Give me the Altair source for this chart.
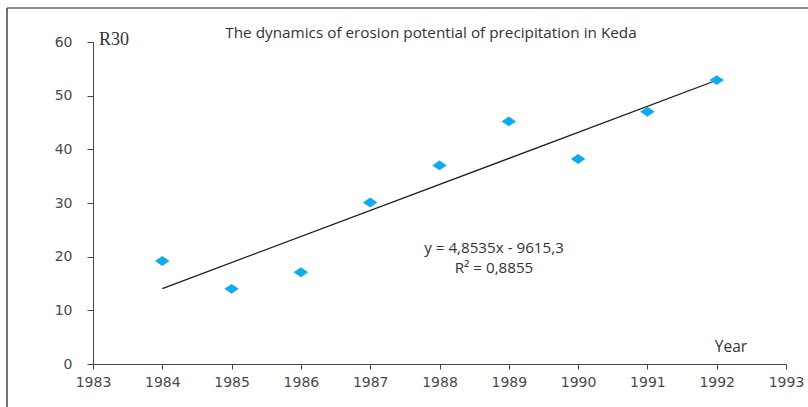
import altair as alt
import pandas as pd

# Observed R30 values by year
years = [1984, 1985, 1986, 1987, 1988, 1989, 1990, 1991, 1992]
r30 = [19.2, 14.0, 17.1, 30.1, 37.0, 45.2, 38.2, 47.0, 52.9]

# Linear trend fitted to the series
slope = 4.8535
intercept = -9615.3
r_squared = 0.8855

x_ticks = list(range(1983, 1994))
y_ticks = [0, 10, 20, 30, 40, 50, 60]

W, H = 693, 322
PAD_L, PAD_T = 93, 42

points = pd.DataFrame({"year": years, "r30": r30})
trend = pd.DataFrame({
    "year": [years[0], years[-1]],
    "r30": [slope * years[0] + intercept, slope * years[-1] + intercept],
})

def comma(v, nd):
    return f"{v:.{nd}f}".replace(".", ",")

sign = "-" if intercept < 0 else "+"
eq_line1 = f"y = {comma(slope, 4)}x {sign} {comma(abs(intercept), 1)}"
eq_line2 = f"R² = {comma(r_squared, 4)}"

xs = alt.Scale(domain=[1983, 1993], nice=False, zero=False)
ys = alt.Scale(domain=[0, 60], nice=False)

x_axis = alt.Axis(values=x_ticks, format="d", grid=False, title=None,
                  labelFont="DejaVu Sans", labelFontSize=14, labelColor="#4a4a4a",
                  domainColor="#444", tickColor="#444", tickSize=5, labelPadding=6,
                  labelFlush=False)
y_axis = alt.Axis(values=y_ticks, grid=False, title=None,
                  labelFont="DejaVu Sans", labelFontSize=14, labelColor="#4a4a4a",
                  domainColor="#444", tickColor="#444", tickSize=6, labelPadding=15)

diamond = "M-1,0L0,-0.68L1,0L0,0.68Z"

pts = alt.Chart(points).mark_point(
    shape=diamond, filled=True, size=210, color="#10AAEE", opacity=1
).encode(
    x=alt.X("year:Q", scale=xs, axis=x_axis),
    y=alt.Y("r30:Q", scale=ys, axis=y_axis),
)

line = alt.Chart(trend).mark_line(color="#1a1a1a", strokeWidth=1.3).encode(
    x=alt.X("year:Q", scale=xs),
    y=alt.Y("r30:Q", scale=ys),
)

def label(text, x, y, font="Open Sans", size=15.3, align="center", baseline="middle"):
    return alt.Chart(pd.DataFrame({"t": [text]})).mark_text(
        font=font, fontSize=size, color="#333", align=align, baseline=baseline
    ).encode(text="t:N", x=alt.value(x), y=alt.value(y))

title = label("The dynamics of erosion potential of precipitation in Keda",
              431 - PAD_L, 33 - PAD_T)
eq1 = label(eq_line1, 494 - PAD_L, 248 - PAD_T, size=15.2)
eq2 = label(eq_line2, 494 - PAD_L, 268 - PAD_T, size=15.2)
year_lbl = label("Year", 731 - PAD_L, 347 - PAD_T, size=15.5)
r30_lbl = label("R30", 99 - PAD_L, 40 - PAD_T, font="Liberation Serif",
                size=18, align="left")

frame_top = alt.Chart(pd.DataFrame({"a": [0]})).mark_rule(
    color="#666", strokeWidth=1.5
).encode(x=alt.value(7 - PAD_L), x2=alt.value(808 - PAD_L), y=alt.value(8 - PAD_T))
frame_left = alt.Chart(pd.DataFrame({"a": [0]})).mark_rule(
    color="#444", strokeWidth=1.5
).encode(x=alt.value(7 - PAD_L), y=alt.value(8 - PAD_T), y2=alt.value(407 - PAD_T))

chart = alt.layer(
    frame_top, frame_left, line, pts, title, eq1, eq2, year_lbl, r30_lbl
).properties(
    width=W, height=H,
    autosize=alt.AutoSizeParams(type="none"),
    padding={"left": PAD_L, "top": PAD_T, "right": 808 - PAD_L - W, "bottom": 407 - PAD_T - H},
    background="white",
).configure_view(stroke=None)

chart.save("out.html", embed_options={"renderer": "svg", "actions": False})
